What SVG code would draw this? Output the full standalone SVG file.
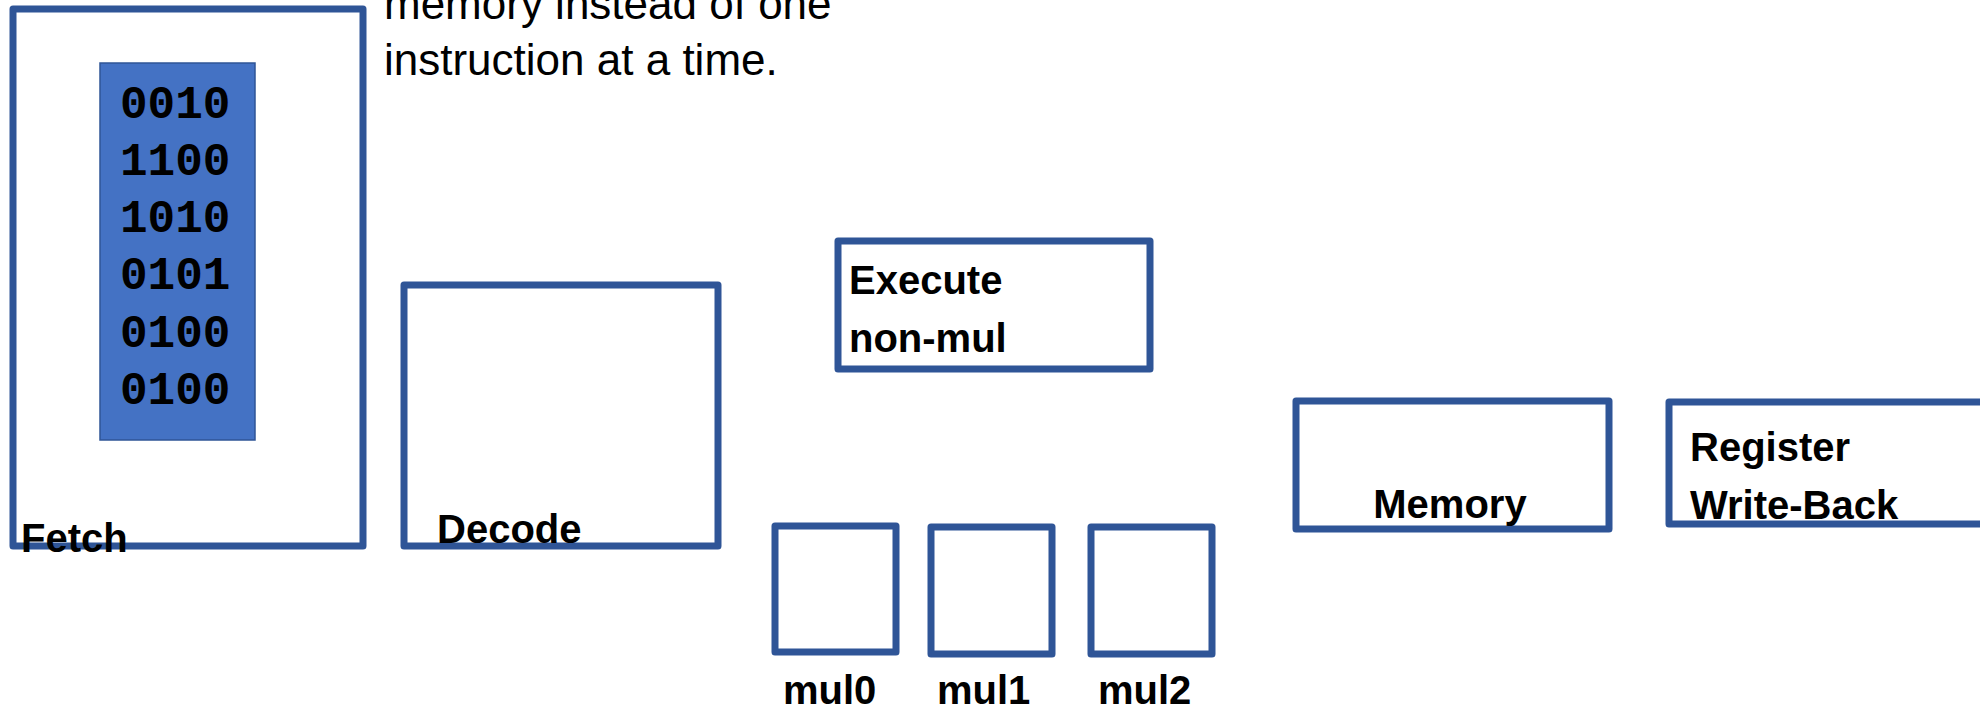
<svg xmlns="http://www.w3.org/2000/svg" width="1980" height="709" viewBox="0 0 1980 709">
  <style>
    .stage { fill: #ffffff; stroke: #2F5597; stroke-width: 7; stroke-linejoin: round; }
    .label { font-family: "Liberation Sans", Arial, sans-serif; font-weight: bold; font-size: 40px; fill: #000000; }
    .note { font-family: "Liberation Sans", Arial, sans-serif; font-size: 44px; fill: #000000; }
    .bits { font-family: "Liberation Mono", "Courier New", monospace; font-weight: bold; font-size: 46px; fill: #000000; }
    .buffer { fill: #4472C4; stroke: #2F5597; stroke-width: 1.5; }
  </style>

  <rect width="1980" height="709" fill="#ffffff"/>

  <!-- explanatory note, top -->
  <g id="note">
    <text class="note" x="384" y="19">memory instead of one</text>
    <text class="note" x="384" y="75">instruction at a time.</text>
  </g>

  <!-- pipeline stages -->
  <g id="fetch">
    <rect class="stage" x="13" y="9" width="350" height="537"/>
    <rect class="buffer" x="100" y="63" width="155" height="377"/>
    <text class="bits" x="120" y="118">0010</text>
    <text class="bits" x="120" y="175">1100</text>
    <text class="bits" x="120" y="232">1010</text>
    <text class="bits" x="120" y="289">0101</text>
    <text class="bits" x="120" y="347">0100</text>
    <text class="bits" x="120" y="404">0100</text>
    <text class="label" x="21" y="552">Fetch</text>
  </g>

  <g id="decode">
    <rect class="stage" x="404" y="285" width="314" height="261"/>
    <text class="label" x="437" y="543">Decode</text>
  </g>

  <g id="execute">
    <rect class="stage" x="838" y="241" width="312" height="128"/>
    <text class="label" x="849" y="294">Execute</text>
    <text class="label" x="849" y="352">non-mul</text>
  </g>

  <g id="mul0">
    <rect class="stage" x="775" y="526" width="121" height="126"/>
    <text class="label" x="783" y="704">mul0</text>
  </g>

  <g id="mul1">
    <rect class="stage" x="931" y="527" width="121" height="127"/>
    <text class="label" x="937" y="704">mul1</text>
  </g>

  <g id="mul2">
    <rect class="stage" x="1091" y="527" width="121" height="127"/>
    <text class="label" x="1098" y="704">mul2</text>
  </g>

  <g id="memory">
    <rect class="stage" x="1296" y="401" width="313" height="128"/>
    <text class="label" x="1450" y="518" text-anchor="middle">Memory</text>
  </g>

  <g id="writeback">
    <rect class="stage" x="1669" y="402" width="340" height="122"/>
    <text class="label" x="1690" y="461">Register</text>
    <text class="label" x="1690" y="519">Write-Back</text>
  </g>

  <g id="connectors"/>
</svg>
